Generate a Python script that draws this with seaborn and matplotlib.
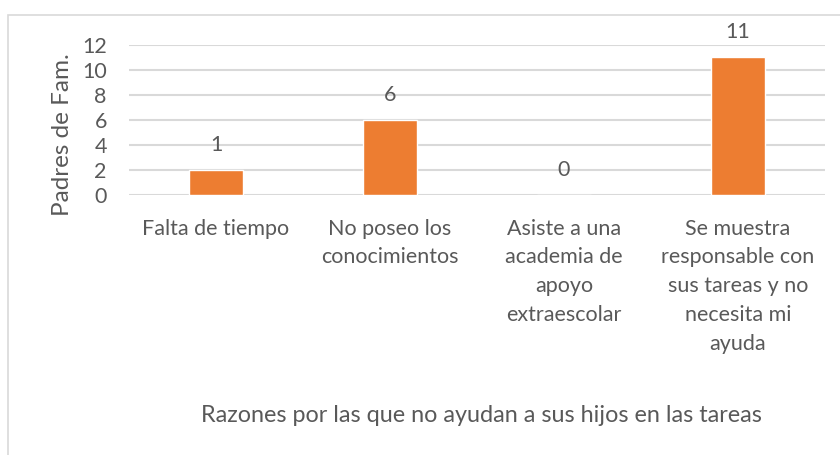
import matplotlib
matplotlib.use("Agg")
import matplotlib.pyplot as plt
import seaborn as sns
from matplotlib.patches import Rectangle

# Datos del gráfico
categorias = [
    "Falta de tiempo",
    "No poseo los\nconocimientos",
    "Asiste a una\nacademia de\napoyo\nextraescolar",
    "Se muestra\nresponsable con\nsus tareas y no\nnecesita mi\nayuda",
]
valores = [2, 6, 0, 11]
etiquetas = ["1", "6", "0", "11"]

gris_texto = "#595959"
gris_linea = "#D9D9D9"
naranja = "#ED7D31"

sns.set_theme(style="white")
plt.rcParams["font.family"] = ["Lato", "DejaVu Sans"]

fig = plt.figure(figsize=(8.4, 4.55), dpi=100)
ax = fig.add_axes([129 / 840, 1 - 195 / 455, 696 / 840, 150.3 / 455])

# marco exterior del gráfico
fig.patches.append(Rectangle((8 / 840, -0.1), 1.2, 1 - 15 / 455 + 0.1,
                             transform=fig.transFigure, fill=False,
                             edgecolor=gris_linea, linewidth=1.2))

sns.barplot(x=categorias, y=valores, color=naranja, width=0.31,
            saturation=1, ax=ax, zorder=3)

for i, (v, t) in enumerate(zip(valores, etiquetas)):
    ax.annotate(t, (i, v), xytext=(0, 11), textcoords="offset points",
                ha="center", va="bottom", fontsize=15.5, color=gris_texto)

ax.set_ylim(0, 12)
ax.set_yticks(range(0, 13, 2))
ax.yaxis.grid(True, color=gris_linea, linewidth=1.5, zorder=0)
for s in ax.spines.values():
    s.set_visible(False)
ax.tick_params(axis="y", length=0, pad=16, labelsize=15.5, labelcolor=gris_texto)
ax.tick_params(axis="x", length=0, pad=17, labelsize=15.5, labelcolor=gris_texto)
for lbl in ax.get_xticklabels():
    lbl.set_linespacing(1.55)

ax.set_ylabel("Padres de Fam.", fontsize=17.5, color=gris_texto)
ax.yaxis.set_label_coords(-0.08, 0.40)
ax.set_xlabel("Razones por las que no ayudan a sus hijos en las tareas",
              fontsize=16.8, color=gris_texto)
ax.xaxis.set_label_coords(0.507, -1.47)
ax.xaxis.label.set_va("center")

fig.savefig("out.png", dpi=100)
